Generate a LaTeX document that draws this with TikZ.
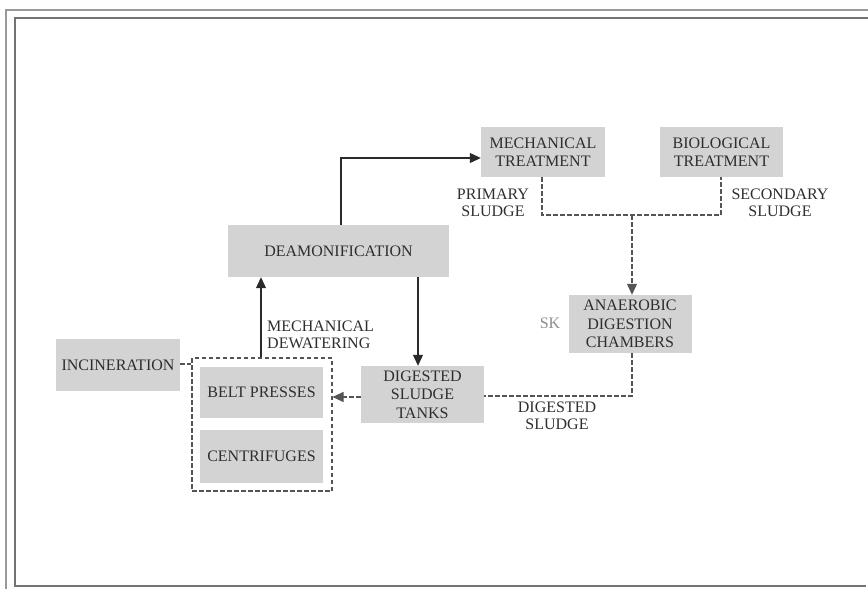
\documentclass[tikz,border=0pt]{standalone}
\usepackage{fontspec}
\setmainfont{Liberation Serif}
\usetikzlibrary{arrows.meta}
\definecolor{boxgray}{HTML}{D3D3D3}
\definecolor{txt}{HTML}{2E2E2E}
\definecolor{lin}{HTML}{2A2A2A}
\definecolor{dsh}{HTML}{555555}
\tikzset{
  box/.style={fill=boxgray, text=txt, align=center, inner sep=0pt, font=\fontsize{16}{18.5}\selectfont},
  lbl/.style={text=txt, align=center, inner sep=0pt, font=\fontsize{16}{17.5}\selectfont},
  arr/.style={draw=lin, line width=1.1pt, -{Triangle[length=11pt,width=10pt]}},
  dsharr/.style={draw=dsh, line width=1.1pt, dash pattern=on 4.5pt off 2.5pt, -{Triangle[length=11pt,width=10pt]}},
  dshline/.style={draw=dsh, line width=1.1pt, dash pattern=on 4.5pt off 2.5pt},
  cont/.style={draw=dsh, line width=1.1pt, dash pattern=on 4.5pt off 2.5pt, inner sep=0pt},
  frameout/.style={draw=black!40, line width=1.2pt},
  framein/.style={draw=black!55, line width=1.6pt},
}
\begin{document}
\begin{tikzpicture}[x=1pt,y=-1pt]
\useasboundingbox (0,0) rectangle (868,589);
% frame
\draw[frameout] (6,589) -- (6,10) -- (868,10);
\draw[framein] (866,586) -- (15,586) -- (15,18) -- (868,18);

% boxes
\node[box, minimum width=124pt, minimum height=50pt] (mt) at (543,152) {MECHANICAL\\TREATMENT};
\node[box, minimum width=123pt, minimum height=50pt] (bt) at (721.5,152) {BIOLOGICAL\\TREATMENT};
\node[box, minimum width=221pt, minimum height=52pt] (deam) at (338.5,251) {DEAMONIFICATION};
\node[box, minimum width=123pt, minimum height=58pt] (ana) at (630,324) {ANAEROBIC\\DIGESTION\\CHAMBERS};
\node[box, minimum width=123pt, minimum height=57pt] (dst) at (422.5,394.5) {DIGESTED\\SLUDGE\\TANKS};
\node[cont, minimum width=140pt, minimum height=133pt] (ctr) at (262,424.5) {};
\node[box, minimum width=123pt, minimum height=51pt] (belt) at (261.5,392.5) {BELT PRESSES};
\node[box, minimum width=123pt, minimum height=53pt] (cent) at (261.5,456.5) {CENTRIFUGES};
\node[box, minimum width=124pt, minimum height=52pt] (inc) at (118,365) {INCINERATION};

% labels
\node[lbl] (prim) at (493,203) {PRIMARY\\SLUDGE};
\node[lbl] (sec) at (780,203) {SECONDARY\\SLUDGE};
\node[lbl, text=black!45] (sk) at (550,323) {SK};
\node[lbl] (dig) at (557,416) {DIGESTED\\SLUDGE};
\node[lbl, align=left, anchor=west] (mdw) at (267,335) {MECHANICAL\\DEWATERING};

% helper coordinates
\coordinate (c1) at (341,158);
\coordinate (c2) at (542,215);
\coordinate (c3) at (721,215);
\coordinate (c4) at (632,215);
\coordinate (c5) at (632,396);
\coordinate (c6) at (418,0);
\coordinate (c7) at (261,397);
\coordinate (c8) at (0,364);

% connectors
\draw[arr] (deam.north -| c1) -- (c1) -- (mt.west |- c1);
\draw[dshline] (mt.south -| c2) -- (c2) -- (c3) -- (bt.south -| c3);
\draw[dsharr] (c4) -- (ana.north -| c4);
\draw[dshline] (ana.south -| c5) -- (c5) -- (dst.east |- c5);
\draw[arr] (deam.south -| c6) -- (dst.north -| c6);
\draw[dsharr] (dst.west |- c7) -- (ctr.east |- c7);
\draw[arr] (ctr.north -| c7) -- (deam.south -| c7);
\draw[dshline] (inc.east |- c8) -- (ctr.west |- c8);
\end{tikzpicture}
\end{document}
